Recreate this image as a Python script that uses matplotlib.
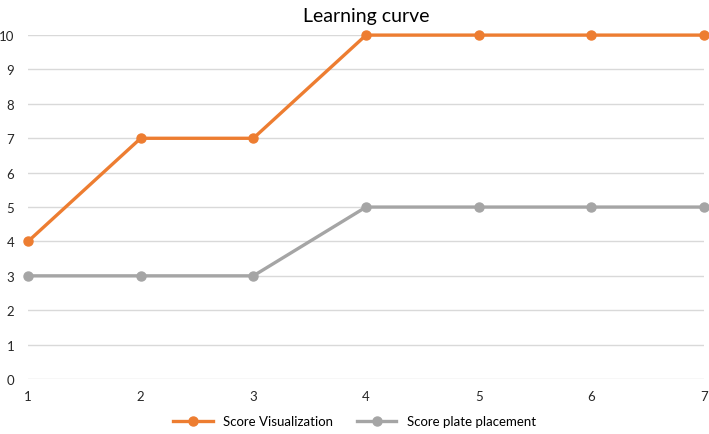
import matplotlib.pyplot as plt

plt.rcParams['font.family'] = ['Lato', 'DejaVu Sans']

# data
sessions = [1, 2, 3, 4, 5, 6, 7]
score_visualization = [4, 7, 7, 10, 10, 10, 10]
score_plate = [3, 3, 3, 5, 5, 5, 5]

ORANGE = "#ED7D31"
GRAY = "#A5A5A5"

fig = plt.figure(figsize=(7.09, 4.35), dpi=100)
ax = fig.add_axes([0.0395, 0.1264, 0.9535, 0.7906])

ax.plot(sessions, score_visualization, color=ORANGE, lw=2.4, marker="o",
        ms=6.5, label="Score Visualization", clip_on=False, zorder=4)
ax.plot(sessions, score_plate, color=GRAY, lw=2.4, marker="o",
        ms=6.5, label="Score plate placement", clip_on=False, zorder=3)

ax.set_xlim(1, 7)
ax.set_ylim(0, 10)
ax.set_xticks(sessions)
ax.set_yticks(range(0, 11))
ax.grid(axis="y", color="#D9D9D9", lw=1)
ax.set_axisbelow(True)
for s in ax.spines.values():
    s.set_visible(False)
ax.tick_params(length=0, labelsize=9.5, colors="#262626")
ax.tick_params(axis="y", pad=10)
ax.tick_params(axis="x", pad=8)

ax.set_title("Learning curve", fontsize=14, color="#000000", pad=10)

fig.legend(loc="lower center", bbox_to_anchor=(0.5, -0.012), ncol=2,
           frameon=False, fontsize=9.5, handlelength=3, columnspacing=1.8)

fig.savefig("out.png", dpi=100)
